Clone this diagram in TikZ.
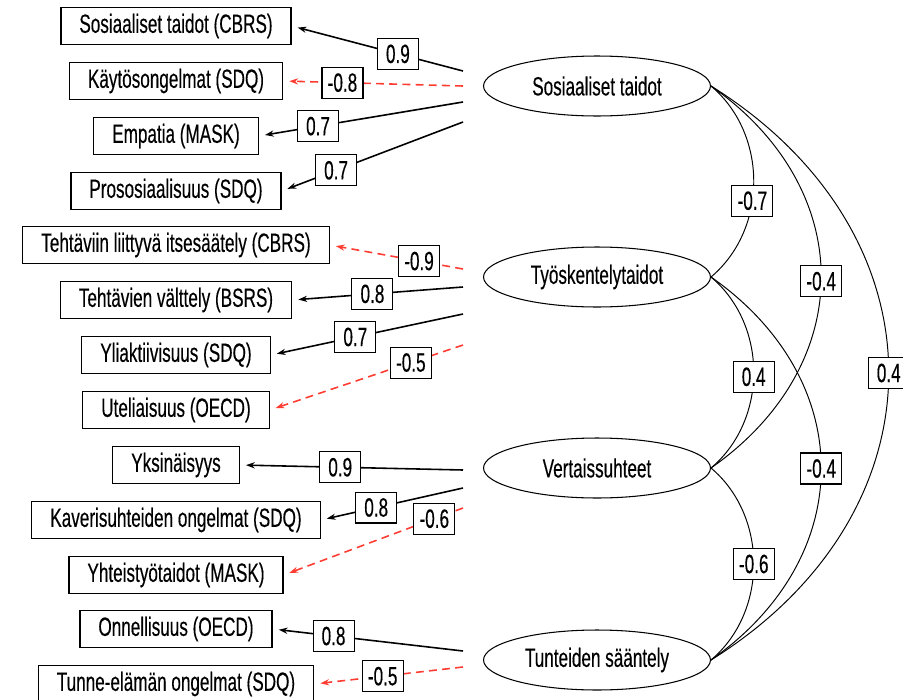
\documentclass[tikz,border=0pt]{standalone}
\usepackage{fontspec}
\setmainfont[FakeStretch=0.65,FakeBold=0.3]{Liberation Sans}
\usetikzlibrary{arrows.meta,shapes.geometric}
\definecolor{red1}{RGB}{255,60,50}

\begin{document}
\begin{tikzpicture}[x=0.02cm,y=-0.02cm,
  obs/.style={draw,line width=0.7pt,minimum height=0.6cm,inner xsep=10.5pt,font=\fontsize{15}{17}\selectfont},
  lat/.style={ellipse,draw,line width=0.6pt,minimum width=4.54cm,minimum height=1.2cm,inner sep=0pt,font=\fontsize{15}{17}\selectfont},
  est/.style={draw=black,text=black,solid,fill=white,line width=0.6pt,minimum width=0.82cm,minimum height=0.62cm,inner sep=1pt,font=\fontsize{15}{17}\selectfont},
  load/.style={line width=0.9pt,-{Stealth[length=5pt,width=3.5pt]},shorten >=3.5pt},
  negload/.style={load,red1,dash pattern=on 4.5pt off 3pt},
  cor/.style={line width=0.55pt}]

\useasboundingbox (0,0) rectangle (903,700);
\clip (0,0) rectangle (903,700);

\def\xo{176}
\def\xs{463}

% latent factors
\node[lat] (st) at (597,86) {Sosiaaliset taidot};
\node[lat] (tk) at (597,277) {Työskentelytaidot};
\node[lat] (vs) at (597,468) {Vertaissuhteet};
\node[lat] (ts) at (597,660) {Tunteiden sääntely};

% indicators
\node[obs] (st1) at (\xo,26) {Sosiaaliset taidot (CBRS)};
\node[obs] (st2) at (\xo,81) {Käytösongelmat (SDQ)};
\node[obs] (st3) at (\xo,136) {Empatia (MASK)};
\node[obs] (st4) at (\xo,191) {Prososiaalisuus (SDQ)};
\node[obs] (tk1) at (\xo,245) {Tehtäviin liittyvä itsesäätely (CBRS)};
\node[obs] (tk2) at (\xo,300) {Tehtävien välttely (BSRS)};
\node[obs] (tk3) at (\xo,355) {Yliaktiivisuus (SDQ)};
\node[obs] (tk4) at (\xo,410) {Uteliaisuus (OECD)};
\node[obs] (vs1) at (\xo,465) {Yksinäisyys};
\node[obs] (vs2) at (\xo,520) {Kaverisuhteiden ongelmat (SDQ)};
\node[obs] (vs3) at (\xo,575) {Yhteistyötaidot (MASK)};
\node[obs] (ts1) at (\xo,629) {Onnellisuus (OECD)};
\node[obs] (ts2) at (\xo,684) {Tunne-elämän ongelmat (SDQ)};

% loose ends left of the ellipses
\coordinate (a1) at (\xs,71);
\coordinate (a2) at (\xs,86);
\coordinate (a3) at (\xs,102);
\coordinate (a4) at (\xs,122);
\coordinate (b1) at (\xs,269);
\coordinate (b2) at (\xs,287);
\coordinate (b3) at (\xs,314);
\coordinate (b4) at (\xs,345);
\coordinate (c1) at (\xs,470);
\coordinate (c2) at (\xs,488);
\coordinate (c3) at (\xs,508);
\coordinate (d1) at (\xs,651);
\coordinate (d2) at (\xs,667);

\draw[load] (a1) -- (st1.east) node[est,pos=0.38] {0.9};
\draw[negload] (a2) -- (st2.east) node[est,pos=0.67] {-0.8};
\draw[load] (a3) -- (st3.east) node[est,pos=0.71] {0.7};
\draw[load] (a4) -- (st4.east) node[est,pos=0.70] {0.7};

\draw[negload] (b1) -- (tk1.east) node[est,pos=0.33] {-0.9};
\draw[load] (b2) -- (tk2.east) node[est,pos=0.53] {0.8};
\draw[load] (b3) -- (tk3.east) node[est,pos=0.56] {0.7};
\draw[negload] (b4) -- (tk4.east) node[est,pos=0.27] {-0.5};

\draw[load] (c1) -- (vs1.east) node[est,pos=0.55] {0.9};
\draw[load] (c2) -- (vs2.east) node[est,pos=0.61] {0.8};
\draw[negload] (c3) -- (vs3.east) node[est,pos=0.16] {-0.6};

\draw[load] (d1) -- (ts1.east) node[est,pos=0.68] {0.8};
\draw[negload] (d2) -- (ts2.east) node[est,pos=0.54] {-0.5};

% factor correlations
\draw[cor] (st.east) .. controls +(237,148) and +(237,-148) .. (ts.east) node[est,pos=0.5] {0.4};
\draw[cor] (st.east) .. controls +(147,103) and +(147,-103) .. (vs.east) node[est,pos=0.51] {-0.4};
\draw[cor] (tk.east) .. controls +(147,103) and +(147,-103) .. (ts.east) node[est,pos=0.5] {-0.4};
\draw[cor] (st.east) .. controls +(57,48) and +(57,-48) .. (tk.east) node[est,pos=0.59] {-0.7};
\draw[cor] (tk.east) .. controls +(57,48) and +(57,-48) .. (vs.east) node[est,pos=0.52] {0.4};
\draw[cor] (vs.east) .. controls +(57,48) and +(57,-48) .. (ts.east) node[est,pos=0.5] {-0.6};

\end{tikzpicture}
\end{document}
